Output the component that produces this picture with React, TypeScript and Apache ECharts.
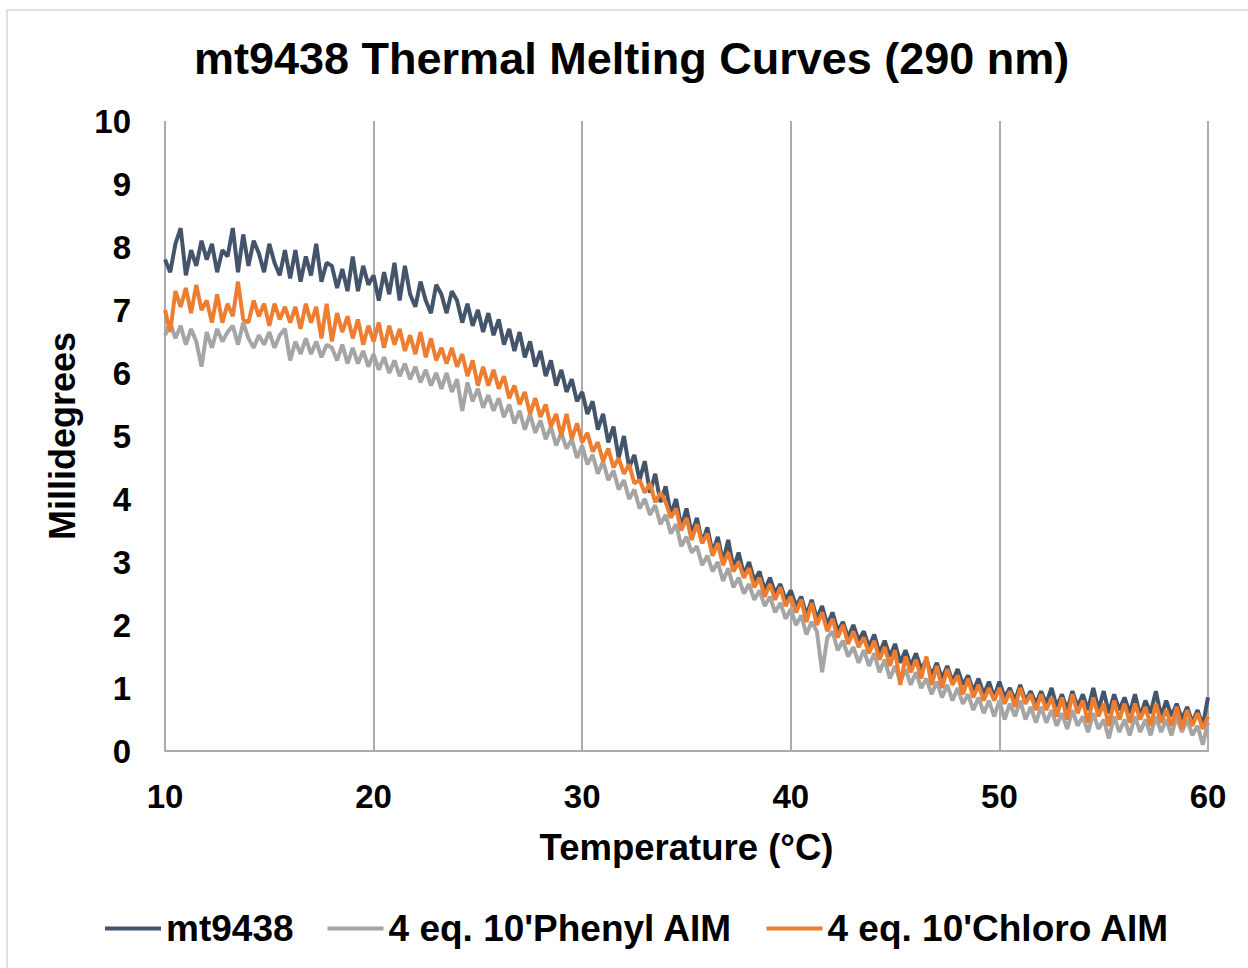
import React, { useEffect, useRef } from "react";
import * as echarts from "echarts";

const T_START = 10;
const T_STEP = 0.25;

const mt9438 = [
  7.8, 7.6, 8.05, 8.3, 7.55, 7.95, 7.7, 8.1,
  7.8, 8.05, 7.6, 7.95, 7.85, 8.3, 7.6, 8.2,
  7.7, 8.1, 7.9, 7.6, 8.05, 7.75, 7.55, 7.95,
  7.5, 7.95, 7.45, 7.85, 7.55, 8.05, 7.45, 7.75,
  7.7, 7.35, 7.65, 7.3, 7.85, 7.3, 7.7, 7.4,
  7.55, 7.15, 7.6, 7.25, 7.75, 7.15, 7.7, 7.25,
  7.05, 7.45, 7.15, 6.95, 7.4, 7.25, 6.95, 7.3,
  7.15, 6.8, 7.1, 6.75, 7.0, 6.65, 6.95, 6.6,
  6.85, 6.45, 6.7, 6.35, 6.65, 6.25, 6.5, 6.1,
  6.35, 5.95, 6.2, 5.8, 6.05, 5.7, 5.9, 5.55,
  5.7, 5.35, 5.55, 5.1, 5.35, 4.9, 5.15, 4.65,
  5.0, 4.5, 4.7, 4.3, 4.6, 4.1, 4.4, 3.95,
  4.2, 3.75, 4.0, 3.55, 3.85, 3.45, 3.7, 3.3,
  3.55, 3.15, 3.4, 3.0, 3.35, 2.9, 3.15, 2.8,
  3.0, 2.7, 2.85, 2.55, 2.75, 2.5, 2.65, 2.4,
  2.55, 2.3, 2.45, 2.15, 2.4, 2.1, 2.3, 2.0,
  2.2, 1.9, 2.05, 1.8, 2.0, 1.75, 1.9, 1.65,
  1.85, 1.55, 1.75, 1.5, 1.7, 1.4, 1.6, 1.35,
  1.55, 1.3, 1.45, 1.2, 1.4, 1.15, 1.35, 1.1,
  1.3, 1.05, 1.2, 0.95, 1.15, 0.9, 1.1, 0.85,
  1.1, 0.85, 1.0, 0.8, 1.05, 0.8, 0.95, 0.75,
  0.95, 0.75, 1.0, 0.7, 0.9, 0.65, 0.95, 0.7,
  0.9, 0.65, 1.0, 0.65, 0.95, 0.6, 0.9, 0.65,
  0.85, 0.6, 0.9, 0.55, 0.8, 0.6, 0.95, 0.55,
  0.8, 0.55, 0.75, 0.5, 0.7, 0.45, 0.65, 0.4,
  0.85,
];

const phenyl = [
  6.6, 6.8, 6.55, 6.75, 6.45, 6.7, 6.5, 6.1,
  6.65, 6.4, 6.7, 6.5, 6.65, 6.75, 6.45, 6.8,
  6.55, 6.4, 6.6, 6.45, 6.65, 6.4, 6.6, 6.7,
  6.2, 6.5, 6.3, 6.55, 6.3, 6.5, 6.25, 6.45,
  6.4, 6.2, 6.45, 6.15, 6.4, 6.15, 6.35, 6.1,
  6.3, 6.05, 6.25, 6.0, 6.2, 5.95, 6.15, 5.9,
  6.1, 5.85, 6.05, 5.8, 6.0, 5.75, 6.0, 5.7,
  5.9, 5.4, 5.85, 5.55, 5.75, 5.45, 5.65, 5.4,
  5.6, 5.3, 5.5, 5.2, 5.4, 5.1, 5.35, 5.05,
  5.25, 4.95, 5.15, 4.85, 5.05, 4.8, 4.95, 4.65,
  4.85, 4.55, 4.7, 4.4, 4.6, 4.3, 4.45, 4.15,
  4.3, 4.0, 4.15, 3.85, 4.0, 3.75, 3.9, 3.6,
  3.75, 3.45, 3.6, 3.25, 3.4, 3.15, 3.25, 2.95,
  3.1, 2.85, 3.0, 2.7, 2.9, 2.6, 2.75, 2.5,
  2.65, 2.4, 2.55, 2.3, 2.45, 2.2, 2.35, 2.1,
  2.25, 2.0, 2.15, 1.85, 2.05, 1.9, 1.25, 1.8,
  1.9, 1.6, 1.75, 1.5, 1.65, 1.4, 1.6, 1.35,
  1.55, 1.25, 1.45, 1.15, 1.35, 1.1, 1.3, 1.05,
  1.25, 1.0, 1.15, 0.9, 1.1, 0.85, 1.05, 0.8,
  1.0, 0.75, 0.9, 0.65, 0.85, 0.6, 0.8, 0.55,
  0.8, 0.5, 0.75, 0.55, 0.8, 0.5, 0.7, 0.45,
  0.7, 0.45, 0.65, 0.4, 0.6, 0.35, 0.65, 0.4,
  0.55, 0.3, 0.6, 0.35, 0.5, 0.2, 0.55, 0.3,
  0.5, 0.25, 0.55, 0.3, 0.5, 0.25, 0.55, 0.3,
  0.5, 0.25, 0.55, 0.3, 0.5, 0.25, 0.4, 0.1,
  0.45,
];

const chloro = [
  7.0, 6.65, 7.3, 7.05, 7.35, 6.95, 7.4, 7.0,
  7.15, 6.8, 7.25, 6.8, 7.1, 6.9, 7.45, 6.85,
  6.8, 7.15, 6.9, 7.1, 6.75, 7.1, 6.85, 7.05,
  6.8, 7.05, 6.7, 7.1, 6.8, 7.05, 6.55, 7.1,
  6.5, 6.95, 6.65, 6.9, 6.55, 6.85, 6.45, 6.75,
  6.5, 6.8, 6.4, 6.75, 6.45, 6.7, 6.35, 6.6,
  6.3, 6.65, 6.25, 6.55, 6.2, 6.4, 6.15, 6.4,
  6.1, 6.3, 5.95, 6.2, 5.8, 6.1, 5.8, 6.05,
  5.75, 5.95, 5.6, 5.8, 5.5, 5.7, 5.35, 5.6,
  5.3, 5.5, 5.15, 5.35, 5.0, 5.35, 4.95, 5.2,
  4.9, 5.05, 4.75, 4.9, 4.6, 4.8, 4.5, 4.65,
  4.4, 4.55, 4.25, 4.3, 4.1, 4.25, 3.95, 4.1,
  3.95, 3.7, 3.85, 3.5, 3.7, 3.35, 3.6, 3.3,
  3.45, 3.1, 3.3, 2.95, 3.15, 2.85, 3.0, 2.75,
  2.9, 2.6, 2.75, 2.45, 2.65, 2.4, 2.6, 2.3,
  2.45, 2.2, 2.4, 2.05, 2.35, 2.0, 2.2, 1.9,
  2.1, 1.8, 2.0, 1.7, 1.9, 1.65, 1.8, 1.55,
  1.75, 1.45, 1.65, 1.35, 1.6, 1.05, 1.5, 1.25,
  1.45, 1.15, 1.5, 1.05, 1.35, 1.0, 1.3, 1.05,
  1.2, 0.9, 1.15, 0.85, 1.05, 0.8, 1.0, 0.8,
  1.0, 0.75, 0.95, 0.7, 1.0, 0.75, 0.9, 0.65,
  0.9, 0.65, 0.85, 0.55, 0.85, 0.5, 0.9, 0.6,
  0.8, 0.45, 0.85, 0.55, 0.75, 0.4, 0.8, 0.5,
  0.75, 0.45, 0.75, 0.5, 0.7, 0.4, 0.75, 0.45,
  0.65, 0.4, 0.7, 0.35, 0.65, 0.4, 0.6, 0.35,
  0.55,
];

const temps = mt9438.map((_, i) => T_START + i * T_STEP);

const seriesNames = ["mt9438", "4 eq. 10'Phenyl AIM", "4 eq. 10'Chloro AIM"];
const seriesColors = ["#44546A", "#A5A5A5", "#ED7D31"];
const seriesValues = [mt9438, phenyl, chloro];

const FONT = "'Liberation Sans', Arial, sans-serif";

export default function App() {
  const ref = useRef<HTMLDivElement>(null);
  useEffect(() => {
    if (!ref.current) return;
    const chart = echarts.init(ref.current, null, { renderer: "svg" });
    chart.setOption({
      animation: false,
      backgroundColor: "#FFFFFF",
      title: {
        text: "mt9438 Thermal Melting Curves (290 nm)",
        left: 189,
        top: 31,
        textStyle: { fontFamily: FONT, fontSize: 45, fontWeight: "bold", color: "#000" },
      },
      graphic: [
        {
          type: "rect",
          shape: { x: 7, y: 10, width: 1300, height: 1000 },
          style: { fill: "none", stroke: "#D9D9D9", lineWidth: 1.5 },
          silent: true,
        },
      ],
      legend: {
        left: 100,
        top: 905,
        icon: "rect",
        itemWidth: 56,
        itemHeight: 4,
        itemGap: 34,
        data: seriesNames,
        textStyle: { fontFamily: FONT, fontSize: 37, fontWeight: "bold", color: "#000" },
      },
      grid: { left: 165, right: 40, top: 121, bottom: 217 },
      xAxis: {
        type: "value",
        min: 10,
        max: 60,
        interval: 10,
        name: "Temperature (°C)",
        nameLocation: "middle",
        nameGap: 78,
        nameTextStyle: { fontFamily: FONT, fontSize: 36.5, fontWeight: "bold", color: "#000" },
        axisLine: { show: true, lineStyle: { color: "#ABABAB", width: 2 } },
        axisTick: { show: false },
        axisLabel: { fontFamily: FONT, fontSize: 33, fontWeight: "bold", color: "#000", margin: 29 },
        splitLine: { show: true, lineStyle: { color: "#ABABAB", width: 2 } },
      },
      yAxis: {
        type: "value",
        min: 0,
        max: 10,
        interval: 1,
        name: "Millidegrees",
        nameLocation: "middle",
        nameGap: 85,
        nameTextStyle: { fontFamily: FONT, fontSize: 36, fontWeight: "bold", color: "#000" },
        axisLine: { show: false },
        axisTick: { show: false },
        axisLabel: { fontFamily: FONT, fontSize: 33, fontWeight: "bold", color: "#000", margin: 34 },
        splitLine: { show: false },
      },
      series: seriesNames.map((name, k) => ({
        name,
        type: "line",
        showSymbol: false,
        symbol: "none",
        smooth: false,
        color: seriesColors[k],
        lineStyle: { color: seriesColors[k], width: 4 },
        data: temps.map((t, i) => [t, seriesValues[k][i]]),
        z: 2 + k,
      })),
    });
    return () => chart.dispose();
  }, []);
  return (
    <div
      ref={ref}
      style={{ position: "absolute", left: 0, top: 0, width: 1248, height: 968 }}
    />
  );
}
